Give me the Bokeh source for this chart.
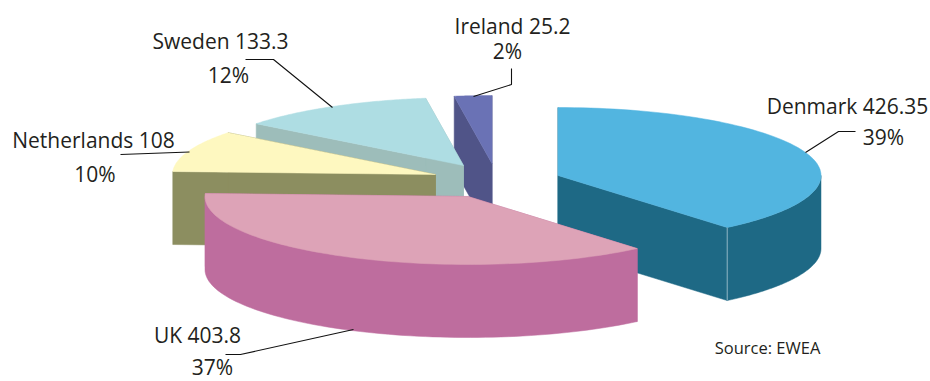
import numpy as np
from bokeh.plotting import figure
from bokeh.core.properties import value
from bokeh.embed import file_html
from bokeh.resources import INLINE

# data
countries = ["Denmark", "UK", "Netherlands", "Sweden", "Ireland"]
capacity = [426.35, 403.8, 108, 133.3, 25.2]
percent = ["39%", "37%", "10%", "12%", "2%"]
source_note = "Source: EWEA"

# style / layout, in page pixels
top_colors = ["#52B5E0", "#DDA3B7", "#FEF8C0", "#AEDDE3", "#6A72B5"]
side_colors = ["#1E6985", "#BE6D9E", "#8C8E60", "#9DBDBA", "#505488"]
centers = {"Denmark": (557.5, 175), "UK": (467.5, 196), "Netherlands": (435, 174),
           "Sweden": (463, 165), "Ireland": (491.5, 163)}
RX, RY, DEPTH = 263, 68, 73
draw_order = ["Ireland", "Sweden", "Netherlands", "Denmark", "UK"]
name_pos = {"Denmark": (847, 113), "UK": (197, 342), "Netherlands": (93, 147),
            "Sweden": (220, 48), "Ireland": (512, 33)}
pct_pos = {"Denmark": (883, 144), "UK": (212, 374), "Netherlands": (94.5, 181),
           "Sweden": (228, 82), "Ireland": (507, 58)}
leaders = {"Denmark": ([855, 838, 805], [131, 131, 152]),
           "UK": ([225, 240, 353], [354, 354, 329]),
           "Netherlands": ([120, 189], [154, 151.5]),
           "Sweden": ([245, 273, 332], [59, 59, 107]),
           "Ireland": ([511, 511, 473], [68, 84, 96])}
TEXT_DY = -7.5

p = figure(width=930, height=381, x_range=(0, 930), y_range=(381, 0),
           output_backend="svg", toolbar_location=None, min_border=0,
           outline_line_color=None, background_fill_color="white",
           border_fill_color="white")
p.axis.visible = False
p.grid.visible = False

fractions = np.array(capacity, dtype=float) / sum(capacity)
edges = 90 - 360 * np.concatenate([[0], np.cumsum(fractions)])


def arc(c, a0, a1, n=80):
    t = np.radians(np.linspace(a0, a1, n))
    return c[0] + RX * np.cos(t), c[1] - RY * np.sin(t)


for name in draw_order:
    i = countries.index(name)
    c = centers[name]
    a0, a1 = edges[i], edges[i + 1]
    ax, ay = arc(c, a0, a1)
    side, top = side_colors[i], top_colors[i]
    # cut faces
    for k in (0, -1):
        xs = [c[0], ax[k], ax[k], c[0]]
        ys = [c[1], ay[k], ay[k] + DEPTH, c[1] + DEPTH]
        p.patch(xs, ys, fill_color=side, line_color=side, line_width=0.5)
    # outer wall, only the part that faces the viewer
    lo, hi = max(a1, -180), min(a0, 0)
    if lo < hi:
        wx, wy = arc(c, hi, lo)
        p.patch(np.r_[wx, wx[::-1]], np.r_[wy, wy[::-1] + DEPTH],
                fill_color=side, line_color=side, line_width=0.5)
    # top
    p.patch(np.r_[c[0], ax], np.r_[c[1], ay], fill_color=top, line_color=top, line_width=0.5)
    # light seam where the Denmark cut face meets its wall
    if name == "Denmark":
        p.line([ax[-1], ax[-1]], [ay[-1], ay[-1] + DEPTH], line_color="#8FB4C4", line_width=1)

FONT = value("Open Sans")
INK = "#231F20"
for name, val, pc in zip(countries, capacity, percent):
    lx, ly = leaders[name]
    p.line(lx, ly, line_color="#111111", line_width=1.1)
    nx, ny = name_pos[name]
    p.text([nx], [ny + TEXT_DY], text=[f"{name} {val}"], text_font=FONT, text_font_size="21px",
           text_color=INK, text_align="center", text_baseline="middle")
    px, py = pct_pos[name]
    p.text([px], [py + TEXT_DY], text=[pc], text_font=FONT, text_font_size="21px",
           text_color=INK, text_align="center", text_baseline="middle")

p.text([767], [347], text=[source_note], text_font=FONT, text_font_size="16.5px",
       text_color=INK, text_align="center", text_baseline="middle")

open("out.html", "w").write(file_html(p, INLINE))
